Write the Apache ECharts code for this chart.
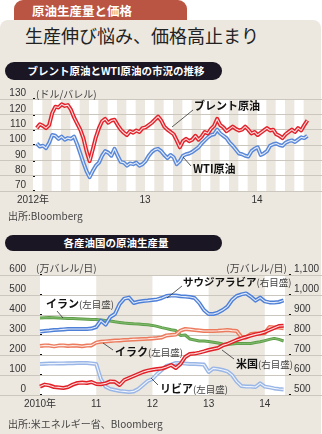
<!DOCTYPE html>
<html><head><meta charset="utf-8">
<script src="https://cdn.jsdelivr.net/npm/echarts@6/dist/echarts.min.js"></script>
<style>
html,body{margin:0;padding:0;background:#fff;width:322px;height:434px;overflow:hidden;font-family:"Noto Sans CJK JP",sans-serif;}
#panel{position:absolute;left:0;top:20px;width:321px;height:414px;background:#ece8e0;border-radius:8px 8px 0 0;}
#tab{position:absolute;left:14px;top:0;width:173px;height:20px;background:#bb5543;border-radius:9px 9px 0 0;color:#fff;font-weight:bold;font-size:12.5px;line-height:21px;padding-left:18px;box-sizing:border-box;}
#head{position:absolute;left:25px;top:23px;font-size:18px;line-height:24px;color:#222;white-space:nowrap;}
.pill{position:absolute;left:5px;width:217px;background:#1b1623;border-radius:9px;color:#fff;font-weight:bold;font-size:10.5px;text-align:center;padding-left:5px;box-sizing:border-box;}
#p1{top:62px;height:18px;line-height:18px;}
#p2{top:235px;height:16px;line-height:16px;}
#chart{position:absolute;left:0;top:0;width:322px;height:434px;}
</style></head>
<body>
<div id="panel"></div>
<div id="tab">原油生産量と価格</div>
<div id="head">生産伸び悩み、価格高止まり</div>
<div class="pill" id="p1">ブレント原油とWTI原油の市況の推移</div>
<div class="pill" id="p2">各産油国の原油生産量</div>
<div id="chart"></div>
<script>
// ---- Top chart: prices, sampled every ~10 days starting mid-Jan 2012 (x in months since 2012-01)
const topStart = 0.4, topStep = 1 / 3;
const brent = [111,113.5,112.5,111,113,121,125,124.5,126.5,125.5,
  126,123,118,114,110,104.5,96,89.5,97,105,
  111,115.5,117,114.5,116,116.5,113,110,108,106.5,
  109,108,109.5,108.5,111,111.5,113,114.5,116.5,118.5,
  116,112,110,108.5,107,103,98.5,102.5,104,102.5,
  103.5,106,103.5,105.5,108.5,107.5,110.5,112.5,117,113,
  111.5,109,110.5,112,110.5,109.5,110,112,110,107.5,
  108.5,106.5,108,109.5,111,109.5,110,107,106,104.5,
  107,108.5,110,108.5,111,109.5,113,116];
const wti = [101,99,99.5,98,101.5,106.5,106,104,105.5,103.5,
  104.5,104,105.5,100.5,94.5,88.5,83,79,83,86.5,
  88.5,93,96,95,93,97.5,93,89,88.5,86.5,
  88,87.5,88.5,86.5,87.5,89.5,93,95.5,97,97.5,
  96,93.5,91.5,93.5,92,87.5,89.5,93,94,94.5,
  95.5,97,98.5,101,103,105,106.5,107,110,107.5,
  106,104.5,101.5,99.5,97,94.5,94,93,92.5,96,
  97.5,98.5,93.5,94.5,96,99.5,100.5,101,100,99.5,
  101.5,102.5,103,102,103.5,105,104.5,106];
const topTickMonths = [0, 12, 24];
const topTickLabels = ['2012年', '13', '14'];

// ---- Bottom chart: monthly production from Jan 2010 (万バレル/日)
const saudi = [817,820,822,825,826,828,830,830,830,830,830,832,
  840,872,852,890,905,955,982,987,960,966,970,972,
  975,978,985,995,997,997,994,992,990,985,960,925,
  905,905,912,925,942,975,995,1003,1008,992,972,987,
  968,963,962,965,973];
const iran = [385,386,387,386,385,384,383,382,381,380,379,378,
  377,375,373,370,366,363,360,358,356,355,353,351,
  348,343,337,332,326,322,298,300,280,275,270,270,
  267,264,260,255,253,255,257,257,257,258,262,266,
  272,278,283,278,270];
const iraq = [245,248,247,243,247,248,245,247,246,244,247,248,
  262,266,268,270,272,273,275,276,278,279,280,281,
  283,285,288,298,300,302,322,330,328,325,323,320,
  320,320,321,323,325,322,320,290,288,305,307,308,
  310,340,338,337,334];
const libya = [155,156,157,157,158,158,159,159,160,160,160,158,
  155,80,42,30,25,20,18,15,18,30,50,70,
  80,105,125,145,152,160,160,157,155,155,154,152,
  115,133,130,125,118,100,67,45,42,42,40,58,
  42,38,33,30,28];
const usa = [542,552,548,540,538,535,540,552,560,562,560,565,
  555,554,558,568,566,550,575,585,595,605,615,622,
  626,630,632,640,650,635,655,690,705,707,712,718,
  725,730,735,748,755,765,775,783,790,797,803,808,
  815,825,835,845,846];
const prodTickMonths = [0, 12, 24, 36, 48];
const prodTickLabels = ['2010年', '11', '12', '13', '14'];

const NUMFONT = 'Liberation Sans, Noto Sans CJK JP, sans-serif';
const JPFONT = 'Noto Sans CJK JP, sans-serif';

function dbl(name, data, color, width, xi, yi, z, innerColor, innerW) {
  return [
    {name: name, type: 'line', data: data, xAxisIndex: xi, yAxisIndex: yi, symbol: 'none', z: z,
     lineStyle: {color: color, width: width, join: 'round'}, silent: true, animation: false},
    {name: name + '_c', type: 'line', data: data, xAxisIndex: xi, yAxisIndex: yi, symbol: 'none', z: z + 0.5,
     lineStyle: {color: innerColor || '#fff', width: innerW || 1.1, opacity: 0.85, join: 'round'}, silent: true, animation: false}
  ];
}
const topPts = arr => arr.map((v, i) => [topStart + i * topStep, v]);
const prodPts = arr => arr.map((v, i) => [i, v]);

const yLabel = {fontSize: 10, color: '#333', fontFamily: NUMFONT, verticalAlign: 'bottom', lineHeight: 11};
const dotTick = {show: true, inside: true, length: 2, lineStyle: {color: '#111', width: 2}};
const gridLine = {show: true, lineStyle: {color: '#cbc7bf', width: 1}};

function txt(x, y, rich, align) {
  return {type: 'text', x: x, y: y, silent: true, z: 50,
    style: {text: rich, fontFamily: JPFONT, verticalAlign: 'middle', align: align || 'left',
      fontSize: 10, fill: '#444',
      rich: {b: {fontSize: 11, fontWeight: 'bold', fill: '#111', fontFamily: JPFONT},
             s: {fontSize: 10.5, fontWeight: 'bold', fill: '#111', fontFamily: JPFONT},
             n: {fontSize: 9.5, fill: '#444', fontFamily: JPFONT}}}};
}
function ln(x1, y1, x2, y2) {
  return {type: 'line', silent: true, z: 50, shape: {x1: x1, y1: y1, x2: x2, y2: y2},
    style: {stroke: '#333', lineWidth: 0.8}};
}

const chart = echarts.init(document.getElementById('chart'), null, {renderer: 'canvas'});
chart.setOption({
  backgroundColor: 'transparent',
  animation: false,
  grid: [
    {left: 33, top: 99, width: 280, height: 92},
    {left: 0, top: 99, width: 322, height: 92},
    {left: 40, top: 275, width: 247, height: 120},
    {left: 0, top: 275, width: 322, height: 120}
  ],
  xAxis: [
    {gridIndex: 0, type: 'value', min: 0, max: 30, interval: 1,
     axisLine: {show: false}, axisTick: {show: false}, splitLine: {show: false},
     splitArea: {show: true, areaStyle: {color: ['#ffffff', 'rgba(0,0,0,0)']}},
     axisLabel: {margin: 4, fontSize: 10, color: '#333', fontFamily: NUMFONT,
       formatter: v => { const k = topTickMonths.indexOf(Math.round(v)); return (k >= 0 && Math.abs(v - Math.round(v)) < 1e-6) ? topTickLabels[k] : ''; }}},
    {gridIndex: 1, type: 'value', min: 0, max: 1, show: false},
    {gridIndex: 2, type: 'value', min: 0, max: 52.3, interval: 12,
     axisLine: {show: false}, axisTick: {show: false}, splitLine: {show: false},
     splitArea: {show: true, areaStyle: {color: ['#ffffff', 'rgba(0,0,0,0)']}},
     axisLabel: {margin: 4, fontSize: 10, color: '#333', fontFamily: NUMFONT,
       formatter: v => { const k = prodTickMonths.indexOf(v); return k >= 0 ? prodTickLabels[k] : ''; }}},
    {gridIndex: 3, type: 'value', min: 0, max: 1, show: false}
  ],
  yAxis: [
    {gridIndex: 0, type: 'value', min: 70, max: 130, interval: 10, offset: 5,
     axisLine: {show: false}, axisTick: dotTick, splitLine: {show: false},
     axisLabel: Object.assign({margin: 2}, yLabel)},
    {gridIndex: 1, type: 'value', min: 70, max: 130, interval: 10, z: 1,
     axisLine: {show: false}, axisTick: {show: false}, axisLabel: {show: false}, splitLine: gridLine},
    {gridIndex: 2, type: 'value', min: 0, max: 600, interval: 100, offset: 11, position: 'left',
     axisLine: {show: false}, axisTick: dotTick, splitLine: {show: false},
     axisLabel: Object.assign({margin: 3}, yLabel)},
    {gridIndex: 2, type: 'value', min: 500, max: 1100, interval: 100, offset: 6, position: 'right',
     axisLine: {show: false}, axisTick: dotTick, splitLine: {show: false},
     axisLabel: Object.assign({margin: 3, formatter: v => v.toLocaleString('en-US')}, yLabel)},
    {gridIndex: 3, type: 'value', min: 0, max: 600, interval: 100, z: 1,
     axisLine: {show: false}, axisTick: {show: false}, axisLabel: {show: false}, splitLine: gridLine}
  ],
  series: [].concat(
    dbl('WTI原油', topPts(wti), '#5a88d8', 4, 0, 0, 3),
    dbl('ブレント原油', topPts(brent), '#e3232b', 4, 0, 0, 5),
    dbl('イラン', prodPts(iran), '#5f9f4a', 3, 2, 2, 3, '#8cc47a', 0.9),
    dbl('イラク', prodPts(iraq), '#ec7a5c', 4, 2, 2, 4),
    dbl('リビア', prodPts(libya), '#99b6e6', 4, 2, 2, 5),
    dbl('サウジアラビア', prodPts(saudi), '#4f80d8', 4, 2, 3, 6),
    dbl('米国', prodPts(usa), '#e11f26', 4, 2, 3, 7)
  ),
  graphic: [
    txt(36, 94, '(ドル/バレル)'),
    txt(194, 106, '{b|ブレント原油}'),
    ln(193, 110, 172, 127),
    txt(193, 169, '{b|WTI原油}'),
    ln(191, 166, 183, 157),
    txt(8, 216, '出所:Bloomberg'),
    txt(36, 268, '(万バレル/日)'),
    txt(287, 268, '(万バレル/日)', 'right'),
    txt(183, 282, '{s|サウジアラビア}{n|(右目盛)}'),
    ln(182, 286, 167, 298),
    txt(46, 304, '{b|イラン}{n|(左目盛)}'),
    ln(57, 311, 63, 318),
    txt(115, 352, '{b|イラク}{n|(左目盛)}'),
    ln(113, 350, 103, 343),
    txt(236, 364, '{b|米国}{n|(右目盛)}'),
    ln(234, 359, 222, 350),
    txt(160, 389, '{b|リビア}{n|(左目盛)}'),
    ln(158, 385, 151, 378),
    txt(8, 424, '出所:米エネルギー省、Bloomberg')
  ]
});
</script>
</body></html>
